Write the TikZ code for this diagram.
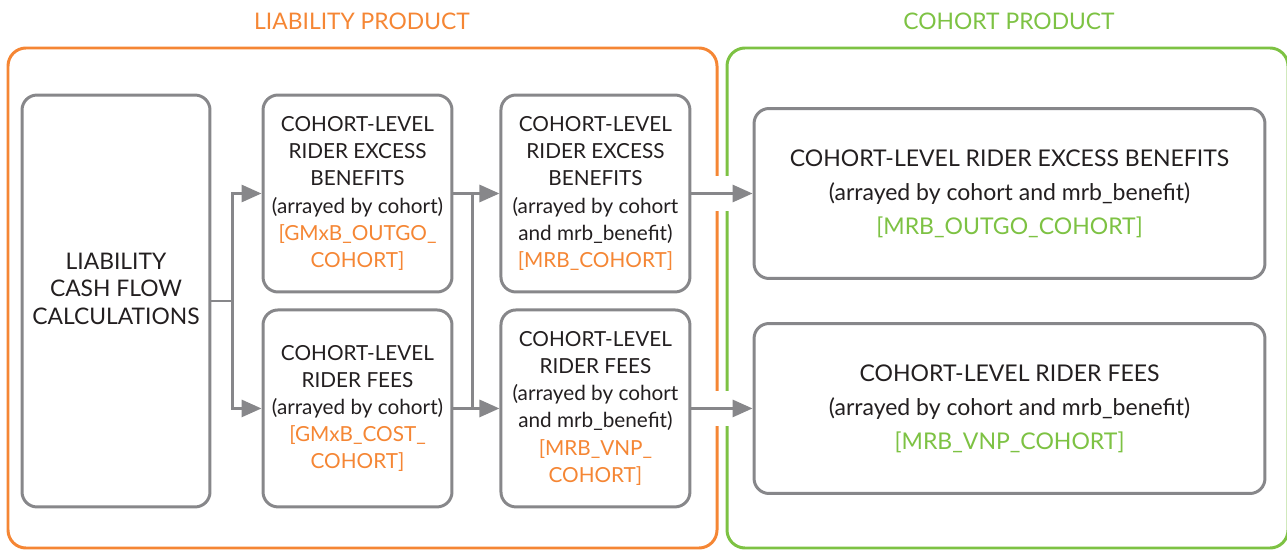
\documentclass[tikz,border=0pt]{standalone}
\usepackage{fontspec}
\setmainfont{Lato}
\usetikzlibrary{positioning}
\usetikzlibrary{arrows.meta}
\usetikzlibrary{calc}
\definecolor{liabOrange}{HTML}{F58634}
\definecolor{cohortGreen}{HTML}{7DC243}
\definecolor{boxGray}{HTML}{87878A}
\definecolor{txtGray}{HTML}{231F20}
\tikzset{calc box/.style={draw=boxGray,line width=1.7pt,rounded corners=0.3cm,fill=white,align=center,text=txtGray,font=\fontsize{11.8}{15.4}\selectfont,inner sep=0pt},
  small box/.style={calc box,minimum width=3.78cm,minimum height=3.94cm},
  wide box/.style={calc box,minimum width=10.22cm,minimum height=3.4cm,font=\fontsize{13.1}{19.4}\selectfont},
  frame/.style={line width=1.7pt,rounded corners=0.36cm},
  flow/.style={draw=boxGray,line width=1.7pt},
  flow arrow/.style={flow,-{Triangle[length=0.4cm,width=0.34cm]}},
  title/.style={font=\fontsize{13}{15}\selectfont},}

\begin{document}
\begin{tikzpicture}[x=0.02cm,y=-0.02cm]
    \useasboundingbox (0,0) rectangle (1287,550);

    % product frames
    \draw[frame,draw=liabOrange] (8,48) rectangle (717,548);
    \draw[frame,draw=cohortGreen] (727,48) rectangle (1288,548);
    \node[title,text=liabOrange] (liabTitle) at (362,21) {LIABILITY PRODUCT};
    \node[title,text=cohortGreen] (cohortTitle) at (1009,21) {COHORT PRODUCT};

    \node[calc box,minimum width=3.76cm,minimum height=8.24cm,font=\fontsize{13}{15.4}\selectfont] (liab) at (116,301) {LIABILITY\\CASH FLOW\\CALCULATIONS\\[-1.5pt]\mbox{}};
    \node[small box] (gmxbOutgo) at (357.5,193.5) {COHORT-LEVEL\\RIDER EXCESS\\BENEFITS\\(arrayed by cohort)\\\textcolor{liabOrange}{[GMxB\_OUTGO\_}\\\textcolor{liabOrange}{COHORT]}};
    \node[small box] (gmxbCost) [below=0.3cm of gmxbOutgo] {COHORT-LEVEL\\RIDER FEES\\(arrayed by cohort)\\\textcolor{liabOrange}{[GMxB\_COST\_}\\\textcolor{liabOrange}{COHORT]}};
    \node[small box] (mrbCohort) [right=0.92cm of gmxbOutgo] {COHORT-LEVEL\\RIDER EXCESS\\BENEFITS\\(arrayed by cohort\\and mrb\_benefit)\\\textcolor{liabOrange}{[MRB\_COHORT]}};
    \node[small box] (mrbVnp) [below=0.3cm of mrbCohort] {COHORT-LEVEL\\RIDER FEES\\(arrayed by cohort\\and mrb\_benefit)\\\textcolor{liabOrange}{[MRB\_VNP\_}\\\textcolor{liabOrange}{COHORT]}};
    \node[wide box] (mrbOutgo) at (1009.5,193.5) {COHORT-LEVEL RIDER EXCESS BENEFITS\\(arrayed by cohort and mrb\_benefit)\\\textcolor{cohortGreen}{[MRB\_OUTGO\_COHORT]}};
    \node[wide box] (mrbVnpCohort) at (1009.5,408.5) {COHORT-LEVEL RIDER FEES\\(arrayed by cohort and mrb\_benefit)\\\textcolor{cohortGreen}{[MRB\_VNP\_COHORT]}};

    % split and bus points
    \coordinate (split) at ($(liab.east)+(21,0)$);
    \coordinate (busTop) at ($(gmxbOutgo.east)!0.41!(mrbCohort.west)$);
    \coordinate (busBot) at ($(gmxbCost.east)!0.41!(mrbVnp.west)$);

    \draw[flow] (liab.east) -- (split);
    \draw[flow arrow] (split) |- (gmxbOutgo.west);
    \draw[flow arrow] (split) |- (gmxbCost.west);
    \draw[flow arrow] (gmxbOutgo.east) -- (mrbCohort.west);
    \draw[flow arrow] (gmxbCost.east) -- (mrbVnp.west);
    \draw[flow] (busTop) -- (busBot);

    % gaps in the frames
    \fill[white] (711,176) rectangle (733,211);
    \fill[white] (711,391) rectangle (733,426);
    \draw[flow arrow] (mrbCohort.east) -- (mrbCohort.east -| mrbOutgo.west);
    \draw[flow arrow] (mrbVnp.east) -- (mrbVnp.east -| mrbVnpCohort.west);
\end{tikzpicture}
\end{document}
